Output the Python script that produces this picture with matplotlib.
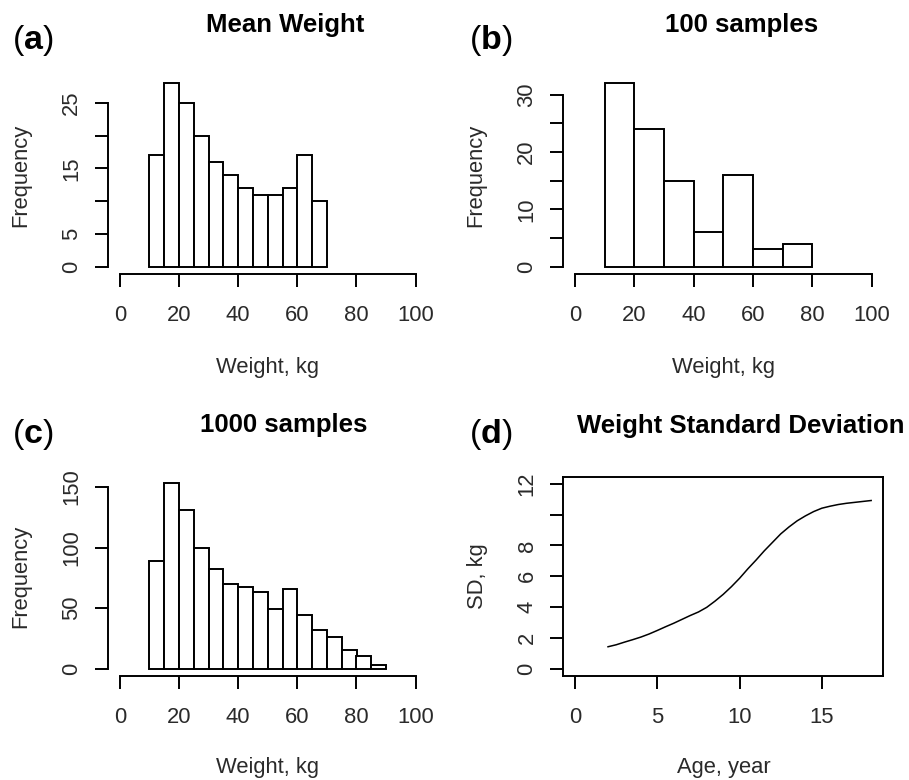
import matplotlib
matplotlib.use("Agg")
import matplotlib.pyplot as plt
import numpy as np

plt.rcParams['font.family'] = ['Liberation Sans', 'DejaVu Sans']
plt.rcParams['mathtext.fontset'] = 'custom'
plt.rcParams['mathtext.rm'] = 'Liberation Sans'
plt.rcParams['mathtext.bf'] = 'Liberation Sans:bold'

# (a) Mean Weight, bins of 5 kg from 10 to 70
bins_a = np.arange(10, 75, 5)
counts_a = [17, 28, 25, 20, 16, 14, 12, 11, 11, 12, 17, 10]
# (b) 100 samples, bins of 10 kg from 10 to 80
bins_b = np.arange(10, 90, 10)
counts_b = [32, 24, 15, 6, 16, 3, 4]
# (c) 1000 samples, bins of 5 kg from 10 to 90
bins_c = np.arange(10, 95, 5)
counts_c = [89, 153, 131, 100, 82, 70, 67, 63, 49, 66, 44, 32, 26, 15, 10, 3]
# (d) weight SD by age (half-year readings)
age = [2, 2.5, 3, 3.5, 4, 4.5, 5, 5.5, 6, 6.5, 7, 7.5, 8, 8.5, 9, 9.5, 10,
       10.5, 11, 11.5, 12, 12.5, 13, 13.5, 14, 14.5, 15, 15.5, 16, 16.5,
       17, 17.5, 18]
sd = [1.42, 1.55, 1.72, 1.88, 2.05, 2.25, 2.48, 2.72, 2.95, 3.2, 3.45, 3.68,
      3.98, 4.38, 4.82, 5.32, 5.87, 6.48, 7.05, 7.65, 8.2, 8.75, 9.2, 9.6,
      9.92, 10.2, 10.42, 10.55, 10.66, 10.74, 10.8, 10.86, 10.92]

W, H = 909, 780
fig = plt.figure(figsize=(W / 100, H / 100), dpi=100)

def box(l, r, t, b):
    return [l / W, 1 - b / H, (r - l) / W, (b - t) / H]

def pt(x, y):
    return x / W, 1 - y / H

grey = '#2a2a2a'
lw = 1.4
fs = 15.8

def style(ax):
    ax.tick_params(length=9.5, width=lw, colors='black', labelcolor=grey,
                   labelsize=fs)
    ax.tick_params(axis='x', pad=12.5)
    ax.tick_params(axis='y', pad=9)
    for lab in ax.get_yticklabels():
        lab.set_rotation(90)
        lab.set_va('center')

def hist_panel(rect, bins, counts, yticks, ylabels):
    ax = fig.add_axes(box(*rect))
    ax.bar(bins[:-1], counts, width=np.diff(bins), align='edge',
           color='white', edgecolor='black', linewidth=lw)
    top = max(counts)
    ax.set_xlim(-4, 104)
    ax.set_ylim(-0.04 * top, 1.04 * top)
    ax.set_xticks([0, 20, 40, 60, 80, 100])
    ax.set_yticks(yticks)
    ax.set_yticklabels(ylabels)
    for s in ['top', 'right']:
        ax.spines[s].set_visible(False)
    ax.spines['left'].set_bounds(0, yticks[-1])
    ax.spines['bottom'].set_bounds(0, 100)
    ax.spines['left'].set_linewidth(lw)
    ax.spines['bottom'].set_linewidth(lw)
    style(ax)
    return ax

hist_panel((108, 427.5, 76, 274), bins_a, counts_a,
           [0, 5, 10, 15, 20, 25], ['0', '5', '', '15', '', '25'])
hist_panel((563, 883.6, 76, 274), bins_b, counts_b,
           [0, 5, 10, 15, 20, 25, 30], ['0', '', '10', '', '20', '', '30'])
hist_panel((108, 427.5, 476, 676), bins_c, counts_c,
           [0, 50, 100, 150], ['0', '50', '100', '150'])

ax = fig.add_axes(box(563.3, 883, 476.5, 676))
ax.plot(age, sd, color='black', linewidth=1.1)
ax.set_xlim(-0.72, 18.72)
ax.set_ylim(-0.48, 12.48)
ax.set_xticks([0, 5, 10, 15])
ax.set_yticks([0, 2, 4, 6, 8, 10, 12])
ax.set_yticklabels(['0', '2', '4', '6', '8', '', '12'])
for s in ax.spines.values():
    s.set_linewidth(lw)
style(ax)

# titles
tkw = dict(fontsize=18.5, fontweight='bold', ha='center', va='center')
fig.text(*pt(285.5, 25), 'Mean Weight', **tkw)
fig.text(*pt(741.5, 25), '100 samples', **tkw)
fig.text(*pt(284, 425), '1000 samples', **tkw)
fig.text(*pt(741, 426), 'Weight Standard Deviation', **tkw)

# panel letters
pkw = dict(fontsize=24.5, ha='left', va='center')
for x, y, s in [(12, 40, 'a'), (469, 40, 'b'), (12, 435, 'c'), (469, 435, 'd')]:
    fig.text(*pt(x, y), '(' + r'$\mathbf{' + s + '}$' + ')', **pkw)

# axis labels
lkw = dict(fontsize=fs, color=grey, ha='center', va='center')
fig.text(*pt(267.5, 367), 'Weight, kg', **lkw)
fig.text(*pt(723.3, 367), 'Weight, kg', **lkw)
fig.text(*pt(267.5, 768), 'Weight, kg', **lkw)
fig.text(*pt(723.5, 768), 'Age, year', **lkw)
fig.text(*pt(21, 175), 'Frequency', rotation=90, **lkw)
fig.text(*pt(476, 175), 'Frequency', rotation=90, **lkw)
fig.text(*pt(21, 576), 'Frequency', rotation=90, **lkw)
fig.text(*pt(477.5, 576), 'SD, kg', rotation=90, **lkw)

fig.savefig('out.png', dpi=100, facecolor='white')
